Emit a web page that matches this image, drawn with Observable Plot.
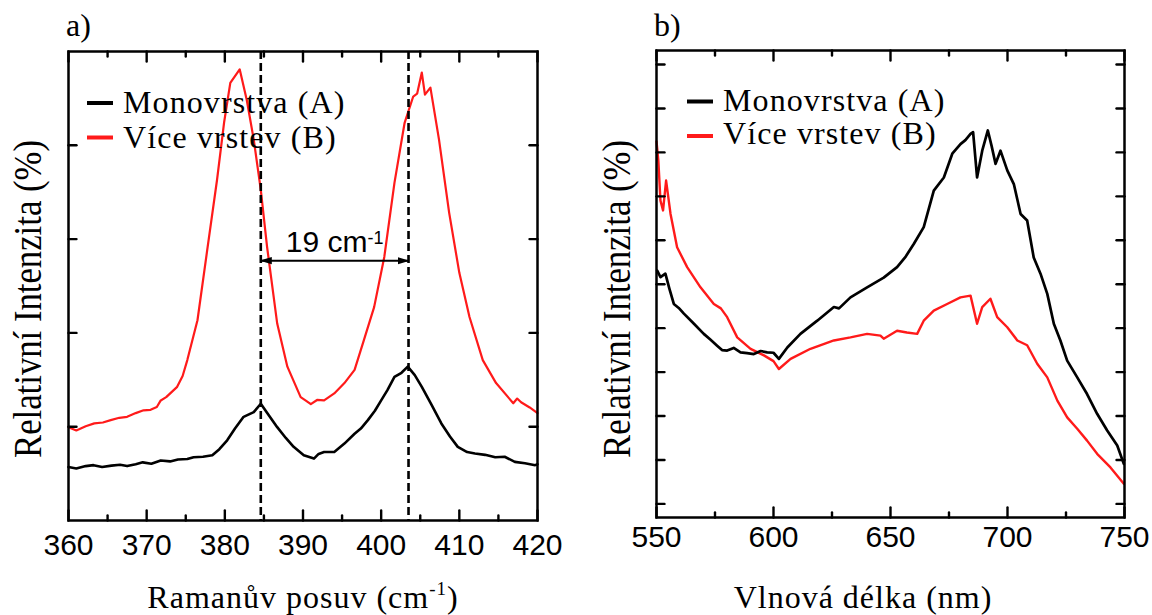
<!DOCTYPE html>
<html>
<head>
<meta charset="utf-8">
<script src="https://cdn.jsdelivr.net/npm/d3@7"></script>
<script src="https://cdn.jsdelivr.net/npm/@observablehq/plot@0.6"></script>
<style>
  html, body { margin: 0; padding: 0; background: #fff; }
  #wrap { position: relative; width: 1152px; height: 615px; overflow: hidden; background: #fff; }
</style>
</head>
<body>
<div id="wrap"></div>
<script>
// ---------------- shared ----------------
const seriesNames = ["Monovrstva (A)", "Více vrstev (B)"];
const seriesColors = ["#000000", "#ff1a1a"];

// ---------------- panel a: Raman ----------------
const ramanTicksMajor = [360, 370, 380, 390, 400, 410, 420];
const ramanTicksMinor = [365, 375, 385, 395, 405, 415];
const ramanYTicks = [20, 40, 60, 80];

const ramanShiftA = [360, 361, 362.2, 363.2, 364.3, 365.5, 366.6, 367.5, 368.6, 369.5, 370.6, 371.8, 373, 374, 375.2, 376, 377.2, 378.4, 379.3, 380.3, 381.3, 382.4, 383.7, 384.6, 385.6, 386.7, 387.8, 388.8, 390.1, 391.4, 392, 392.7, 394, 395.3, 396.6, 397.4, 398.3, 399.2, 400, 400.8, 401.7, 402.6, 403.4, 404.3, 405.2, 406.4, 407.7, 408.8, 409.8, 411, 412, 413.3, 414.6, 415.8, 417.1, 418.4, 419.7, 420];
const ramanIntA   = [11.4, 11.1, 11.6, 11.8, 11.4, 11.7, 11.9, 11.6, 12.0, 12.4, 12.1, 12.8, 12.6, 13.0, 13.1, 13.5, 13.6, 13.9, 15.2, 17.1, 19.6, 22.1, 23.1, 24.9, 22.5, 19.9, 17.6, 15.7, 13.9, 13.2, 14.2, 14.6, 14.6, 16.4, 18.5, 19.6, 21.4, 23.4, 25.6, 27.8, 30.6, 31.5, 32.8, 31.0, 28.5, 24.8, 20.7, 17.9, 15.7, 14.6, 14.3, 14.0, 13.5, 13.6, 12.5, 12.2, 11.8, 12.0];

const ramanShiftB = [360, 361, 362.2, 363.3, 364.4, 365.4, 366.5, 367.5, 368.6, 369.6, 370.5, 371.3, 371.8, 372.5, 373.9, 374.6, 375.2, 376.5, 377.7, 379, 379.9, 380.7, 381.9, 382.8, 383.7, 384.6, 385.4, 386.7, 388, 389.7, 390.5, 391, 391.8, 392.7, 394, 395.3, 396.6, 397.8, 399.1, 400.4, 401.7, 403, 404.1, 404.6, 405.2, 405.6, 406.3, 407.4, 408.7, 410, 411.3, 413, 414.7, 416.9, 417.4, 417.9, 419, 420];
const ramanIntB   = [19.9, 19.2, 20.1, 20.7, 20.9, 21.4, 21.9, 22.1, 22.9, 23.5, 23.6, 24.2, 25.6, 26.3, 28.5, 30.8, 34.2, 42.7, 57.1, 72.6, 84.8, 93.3, 96.2, 89.7, 81.2, 70.5, 58.4, 42.0, 32.8, 26.3, 25.4, 24.8, 25.7, 25.6, 27.1, 29.3, 32.1, 38.5, 45.5, 56.2, 72.0, 84.8, 90.4, 91.0, 95.5, 90.8, 92.3, 81.2, 65.6, 52.8, 43.4, 34.2, 29.3, 25.0, 26.0, 25.2, 24.1, 22.9];

const ramanPeaks = [384.6, 403.5];
const ramanArrowLevel = 55.4;
const ramanLabelLevel = 59.3;
const ramanLabel = "19 cm";
const ramanLabelSup = "-1";

// ---------------- panel b: photoluminescence ----------------
const plTicksMajor = [550, 600, 650, 700, 750];
const plTicksMinor = [575, 625, 675, 725];
const plYTicks = [0, 10, 20, 30, 40, 50, 60, 70, 80, 90, 100];

const plWaveA = [550.3, 551.7, 553.8, 555.5, 557.4, 559.5, 561.7, 566, 570.2, 573, 575.9, 578, 580.2, 583, 585.9, 588.7, 591.6, 594.5, 597.3, 600, 602.3, 605.9, 611.5, 618.7, 625.8, 628, 632.9, 640, 647.1, 652.8, 656.5, 660, 664.2, 668.5, 672.8, 676.4, 679.9, 682, 684.2, 685.3, 687, 689.2, 691.6, 693.2, 694.9, 697, 699.9, 702.7, 705.6, 708.4, 711.2, 714.1, 717, 719.8, 722.6, 725.5, 729.8, 734, 738.3, 742.6, 746.9, 749.7];
const plIntA  = [53.1, 51.6, 52.4, 49.0, 45.5, 44.6, 43.3, 41.0, 38.7, 37.4, 36.0, 35.0, 34.9, 35.5, 34.5, 34.3, 34.1, 34.8, 34.5, 34.4, 33.0, 35.6, 38.7, 41.7, 44.8, 44.5, 47.0, 49.3, 51.5, 53.9, 56.3, 59.2, 63.0, 71.3, 74.3, 79.7, 81.9, 82.8, 84.2, 84.6, 74.3, 80.4, 85.0, 81.5, 77.4, 80.4, 75.9, 72.8, 66.0, 64.5, 56.1, 52.4, 47.8, 41.0, 37.2, 32.6, 28.8, 25.0, 20.5, 16.7, 13.3, 9.1];

const plWaveB = [550, 550.8, 551.7, 552.8, 554.1, 556, 558.8, 563.1, 568.8, 574.5, 577.5, 580.2, 584.5, 590.2, 595.9, 600, 602.3, 607.3, 615.8, 625.8, 632.9, 640, 645.7, 647.1, 652.8, 657, 661.4, 664.2, 668.5, 674.2, 679.9, 684.2, 687, 689.2, 692.7, 695.6, 699.9, 704.2, 708.4, 712.7, 717, 721.3, 725.5, 729.8, 734, 738.3, 744, 749.7];
const plIntB  = [82.5, 78.0, 69.0, 66.8, 73.6, 66.0, 58.4, 53.9, 49.3, 45.5, 44.5, 42.5, 37.9, 35.3, 33.8, 32.5, 30.7, 33.0, 35.3, 37.2, 37.9, 38.7, 38.3, 37.6, 39.4, 39.0, 38.7, 41.7, 44.0, 45.5, 47.0, 47.4, 41.0, 44.8, 46.7, 42.5, 40.2, 37.2, 36.1, 31.9, 28.8, 23.5, 19.7, 17.1, 14.4, 11.4, 8.3, 4.6];

// ---------------- helpers ----------------
const rows = (xs, ys) => xs.map((x, i) => ({x, y: ys[i]}));
const sansFont = "Liberation Sans, Arial, Helvetica, sans-serif";
const textFont = "Liberation Serif, DejaVu Serif, serif";

function triMarker(color) {
  const m = d3.create("svg:marker")
    .attr("viewBox", "-11 -5 12 10")
    .attr("markerWidth", 12)
    .attr("markerHeight", 10)
    .attr("markerUnits", "userSpaceOnUse")
    .attr("orient", "auto-start-reverse")
    .attr("fill", color)
    .attr("stroke", "none");
  m.append("path").attr("d", "M-11,-3.6L1,0L-11,3.6Z");
  return m.node();
}

// inward ticks on all four sides of the frame (vector marks anchored to the frame edges)
const tickShape = {draw(context, l) { context.moveTo(0, 0); context.lineTo(0, -l); }};
const tk = {anchor: "start", stroke: "#000", strokeWidth: 2.4, shape: tickShape};
function frameTicks(xMajor, xMinor, yTicks, majorLen, minorLen, yLen) {
  return [
    Plot.vectorX(xMajor, {x: d => d, frameAnchor: "bottom", rotate: 0, length: majorLen, ...tk}),
    Plot.vectorX(xMinor, {x: d => d, frameAnchor: "bottom", rotate: 0, length: minorLen, ...tk}),
    Plot.vectorX(xMajor, {x: d => d, frameAnchor: "top", rotate: 180, length: majorLen, ...tk}),
    Plot.vectorX(xMinor, {x: d => d, frameAnchor: "top", rotate: 180, length: minorLen, ...tk}),
    Plot.vectorY(yTicks, {y: d => d, frameAnchor: "left", rotate: 90, length: yLen, ...tk}),
    Plot.vectorY(yTicks, {y: d => d, frameAnchor: "right", rotate: -90, length: yLen, ...tk})
  ];
}

const baseStyle = {fontFamily: sansFont, fontSize: "30px", color: "#000", background: "transparent", overflow: "visible"};

// ---------------- plot a ----------------
const plotA = Plot.plot({
  width: 576, height: 615,
  marginLeft: 68, marginRight: 39, marginTop: 51, marginBottom: 95,
  x: {domain: [360, 420]},
  y: {domain: [0, 100]},
  style: baseStyle,
  marks: [
    Plot.line(rows(ramanShiftB, ramanIntB), {x: "x", y: "y", stroke: seriesColors[1], strokeWidth: 2.2}),
    Plot.line(rows(ramanShiftA, ramanIntA), {x: "x", y: "y", stroke: seriesColors[0], strokeWidth: 2.6}),
    Plot.ruleX(ramanPeaks, {stroke: "#000", strokeWidth: 2.6, strokeDasharray: "8,4"}),
    Plot.link([{x1: ramanPeaks[0], x2: ramanPeaks[1], y: ramanArrowLevel}],
      {x1: "x1", x2: "x2", y1: "y", y2: "y", stroke: "#000", strokeWidth: 2, markerStart: triMarker, markerEnd: triMarker}),
    Plot.text([ramanLabel], {x: (ramanPeaks[0] + ramanPeaks[1]) / 2, y: ramanLabelLevel, text: d => d,
      fontSize: 30, fontFamily: sansFont, fill: "#000", textAnchor: "middle", lineAnchor: "middle"}),
    Plot.frame({stroke: "#000", strokeWidth: 2.5}),
    ...frameTicks(ramanTicksMajor, ramanTicksMinor, ramanYTicks, 10, 5, 8),
    Plot.axisX(ramanTicksMajor, {anchor: "bottom", tickSize: 0, tickPadding: 13, label: null, fontSize: 30, fontFamily: sansFont}),
    Plot.axisY({ticks: [], label: null, tickSize: 0})
  ]
});

// ---------------- plot b ----------------
const plotB = Plot.plot({
  width: 576, height: 615,
  marginLeft: 80, marginRight: 28, marginTop: 50, marginBottom: 98,
  x: {domain: [550, 750]},
  y: {domain: [-3.1, 103.2]},
  style: baseStyle,
  marks: [
    Plot.line(rows(plWaveB, plIntB), {x: "x", y: "y", stroke: seriesColors[1], strokeWidth: 2.4}),
    Plot.line(rows(plWaveA, plIntA), {x: "x", y: "y", stroke: seriesColors[0], strokeWidth: 2.7}),
    Plot.frame({stroke: "#000", strokeWidth: 2.5}),
    ...frameTicks(plTicksMajor, plTicksMinor, plYTicks, 10, 5, 8),
    Plot.axisX(plTicksMajor, {anchor: "bottom", tickSize: 0, tickPadding: 8, label: null, fontSize: 30, fontFamily: sansFont}),
    Plot.axisY({ticks: [], label: null, tickSize: 0})
  ]
});

// superscript on the annotation
d3.select(plotA).selectAll("text")
  .filter(function () { return this.textContent === ramanLabel; })
  .append("tspan").attr("dy", "-0.45em").attr("font-size", "0.6em").text(ramanLabelSup);

const wrap = document.getElementById("wrap");
for (const [svg, left] of [[plotA, 0], [plotB, 576]]) {
  svg.style.position = "absolute";
  svg.style.left = left + "px";
  svg.style.top = "0px";
  wrap.appendChild(svg);
}

// ---------------- overlay: titles, panel labels, legends ----------------
const ov = d3.select(wrap).append("svg")
  .attr("width", 1152).attr("height", 615)
  .style("position", "absolute").style("left", "0px").style("top", "0px")
  .style("pointer-events", "none");

function label(sel) {
  return sel.append("text").attr("font-family", textFont).attr("fill", "#000");
}

// panel labels
label(ov).attr("x", 66).attr("y", 36).attr("font-size", 32).text("a)");
label(ov).attr("x", 654).attr("y", 36).attr("font-size", 32).text("b)");

// x titles
const xtA = label(ov).attr("x", 303).attr("y", 608)
  .attr("text-anchor", "middle").attr("font-size", 32).attr("letter-spacing", 1);
xtA.append("tspan").text("Ramanův posuv (cm");
xtA.append("tspan").attr("dy", -13).attr("font-size", 19).text("-1");
xtA.append("tspan").attr("dy", 13).text(")");
label(ov).attr("x", 863).attr("y", 608)
  .attr("text-anchor", "middle").attr("font-size", 32).attr("letter-spacing", 1)
  .text("Vlnová délka (nm)");

// y titles
for (const cx of [41, 630]) {
  label(ov)
    .attr("transform", `translate(${cx},299) rotate(-90)`)
    .attr("text-anchor", "middle").attr("font-size", 40)
    .attr("textLength", 318).attr("lengthAdjust", "spacingAndGlyphs")
    .text("Relativní Intenzita (%)");
}

// legends
const legendSpecs = [
  {swX: 87, txX: 123, rows: [{sy: 103, ty: 113}, {sy: 137.5, ty: 148}]},
  {swX: 687, txX: 723, rows: [{sy: 101.5, ty: 111}, {sy: 136, ty: 144}]}
];
for (const spec of legendSpecs) {
  spec.rows.forEach((r, i) => {
    ov.append("line").attr("x1", spec.swX).attr("x2", spec.swX + 26)
      .attr("y1", r.sy).attr("y2", r.sy)
      .attr("stroke", seriesColors[i]).attr("stroke-width", 4);
    label(ov).attr("x", spec.txX).attr("y", r.ty)
      .attr("font-size", 32).attr("letter-spacing", 1.1).text(seriesNames[i]);
  });
}
</script>
</body>
</html>
